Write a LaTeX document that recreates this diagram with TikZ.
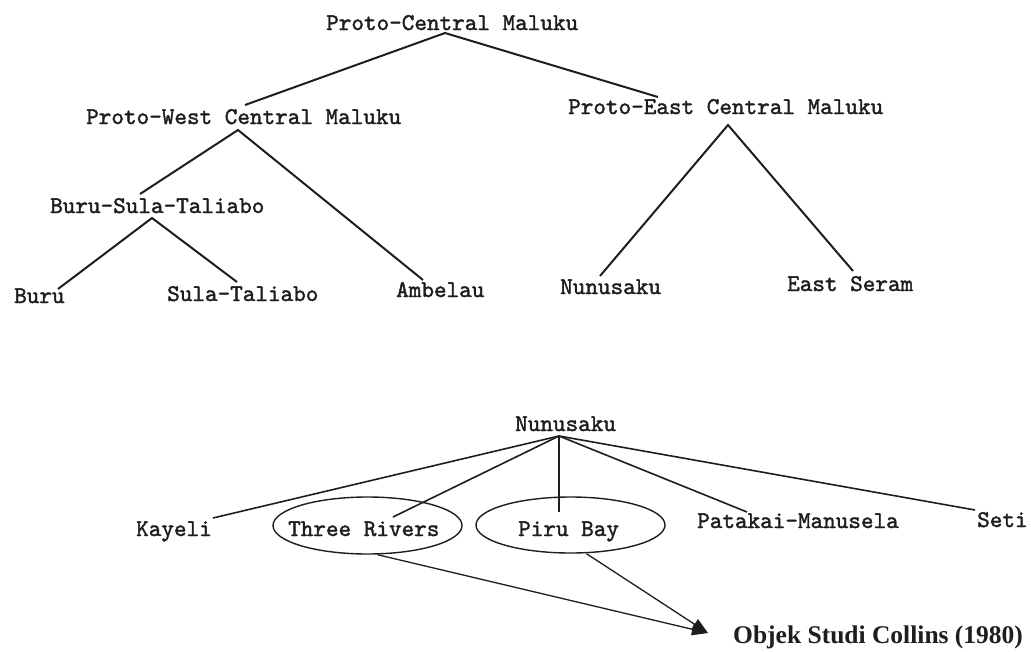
\documentclass[tikz,border=0pt]{standalone}
\usepackage{fontspec}
\setmainfont{Liberation Serif}
\newfontfamily\monof[FakeBold=1.6]{lmmono10-regular.otf}
\usetikzlibrary{arrows.meta,shapes.geometric}
\definecolor{ink}{HTML}{1E1E1E}
\begin{document}
\begin{tikzpicture}[x=1pt,y=-1pt,
  lbl/.style={font=\monof\fontsize{24}{24}\selectfont, text=ink, inner sep=0pt, anchor=base west},
  edge/.style={draw=ink, line width=2pt},
  thin edge/.style={draw=ink, line width=1.6pt},
  oval/.style={draw=ink, line width=1.4pt, ellipse, inner sep=0pt},
  pointer/.style={draw=ink, line width=1.3pt, -{Triangle[length=16pt,width=12pt]}},
  note/.style={font=\bfseries\fontsize{25.5}{25.5}\selectfont, text=ink, inner sep=0pt, anchor=base west}]
\useasboundingbox[fill=white] (0,0) rectangle (1031,651);

% ---------- upper tree ----------
\node[lbl] (pcm)  at (326,30)  {Proto-Central Maluku};
\node[lbl] (pwcm) at (86,124)  {Proto-West Central Maluku};
\node[lbl] (pecm) at (568,114) {Proto-East Central Maluku};
\node[lbl] (bst)  at (50,213)  {Buru-Sula-Taliabo};
\node[lbl] (buru) at (14,303)  {Buru};
\node[lbl] (sula) at (167,301) {Sula-Taliabo};
\node[lbl] (amb)  at (396,297) {Ambelau};
\node[lbl] (nun1) at (560,294) {Nunusaku};
\node[lbl] (es)   at (787,291) {East Seram};

\coordinate (pcm-a)  at (445,33);
\coordinate (pwcm-t) at (245,105);
\coordinate (pecm-t) at (658,97);
\coordinate (pwcm-a) at (238,130);
\coordinate (bst-t)  at (140,194);
\coordinate (amb-t)  at (423,280);
\coordinate (bst-a)  at (152,218);
\coordinate (buru-t) at (58,289);
\coordinate (sula-t) at (237,282);
\coordinate (pecm-a) at (728,125);
\coordinate (nun1-t) at (600,276);
\coordinate (es-t)   at (853,271);

\draw[edge] (pwcm-t) -- (pcm-a) -- (pecm-t);
\draw[edge] (bst-t) -- (pwcm-a) -- (amb-t);
\draw[edge] (buru-t) -- (bst-a) -- (sula-t);
\draw[edge] (nun1-t) -- (pecm-a) -- (es-t);

% ---------- lower tree ----------
\node[lbl] (nun2) at (515,431) {Nunusaku};
\node[lbl] (kay)  at (136,536) {Kayeli};
\node[lbl] (tr)   at (288,536) {Three Rivers};
\node[lbl] (piru) at (518,536) {Piru Bay};
\node[lbl] (pm)   at (697,528) {Patakai-Manusela};
\node[lbl] (seti) at (977,527) {Seti};

\node[oval, minimum width=189pt, minimum height=57pt] (trov) at (367.5,525.5) {};
\node[oval, minimum width=189pt, minimum height=56pt] (piov) at (570.5,525) {};

\coordinate (nun2-a) at (559,436);
\coordinate (kay-t)  at (213,518);
\coordinate (tr-t)   at (393,517);
\coordinate (piru-t) at (559,512);
\coordinate (pm-t)   at (747,512);
\coordinate (seti-t) at (975,510);

\draw[thin edge] (nun2-a) -- (kay-t);
\draw[thin edge] (nun2-a) -- (tr-t);
\draw[thin edge] (nun2-a) -- (piru-t);
\draw[thin edge] (nun2-a) -- (pm-t);
\draw[thin edge] (nun2-a) -- (seti-t);

\node[note] (obj) at (733,643) {Objek Studi Collins (1980)};
\coordinate (tip) at (708,633);
\draw[pointer] ([xshift=10pt]trov.south) -- (tip);
\draw[pointer] ([xshift=16pt]piov.south) -- (tip);
\end{tikzpicture}
\end{document}
